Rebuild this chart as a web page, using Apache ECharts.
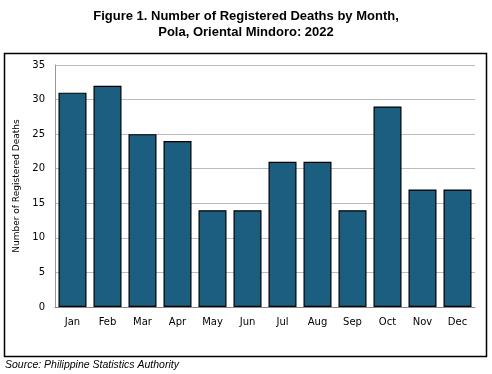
<!DOCTYPE html>
<html><head><meta charset="utf-8">
<script src="https://cdn.jsdelivr.net/npm/echarts@6/dist/echarts.min.js"></script>
<style>html,body{margin:0;padding:0;background:#fff}#c{width:492px;height:374px}</style>
</head><body><div id="c"></div>
<script>
const months = ['Jan','Feb','Mar','Apr','May','Jun','Jul','Aug','Sep','Oct','Nov','Dec'];
const deaths = [31,32,25,24,14,14,21,21,14,29,17,17];
const titleLines = ['Figure 1. Number of Registered Deaths by Month,','Pola, Oriental Mindoro: 2022'];
const yAxisName = 'Number of Registered Deaths';
const sourceText = 'Source: Philippine Statistics Authority';

const chart = echarts.init(document.getElementById('c'));
chart.setOption({
  animation: false,
  backgroundColor: '#fff',
  title: {
    text: titleLines.join('\n'),
    left: 'center', top: 3,
    textStyle: {fontFamily: 'Liberation Sans, Arial', fontWeight: 'bold', fontSize: 13, lineHeight: 16, color: '#000'}
  },
  graphic: [
    {type: 'rect', shape: {x: 4.5, y: 53.5, width: 482, height: 303}, style: {fill: 'none', stroke: '#000', lineWidth: 1.5}, z: 100},
    {type: 'text', left: 5, top: 360, style: {text: sourceText, font: 'italic 10.5px "Liberation Sans", Arial', fill: '#000'}}
  ],
  grid: {left: 55, right: 17, top: 65, bottom: 67},
  xAxis: {
    type: 'category', data: months,
    axisLine: {lineStyle: {color: '#888', width: 1}},
    axisTick: {show: false},
    axisLabel: {fontFamily: 'DejaVu Sans', fontSize: 10, color: '#000', margin: 10}
  },
  yAxis: {
    type: 'value', min: 0, max: 35, interval: 5,
    name: yAxisName, nameLocation: 'middle', nameGap: 30,
    nameTextStyle: {fontFamily: 'DejaVu Sans', fontSize: 9, color: '#000'},
    axisLine: {show: true, lineStyle: {color: '#999', width: 1}},
    axisTick: {show: false},
    splitLine: {lineStyle: {color: '#bbb', width: 1}},
    axisLabel: {fontFamily: 'DejaVu Sans', fontSize: 10, color: '#000', margin: 10}
  },
  series: [{
    type: 'bar', data: deaths, barCategoryGap: '20%',
    itemStyle: {color: '#1b5e80', borderColor: '#000', borderWidth: 1.2}
  }]
});
</script></body></html>
